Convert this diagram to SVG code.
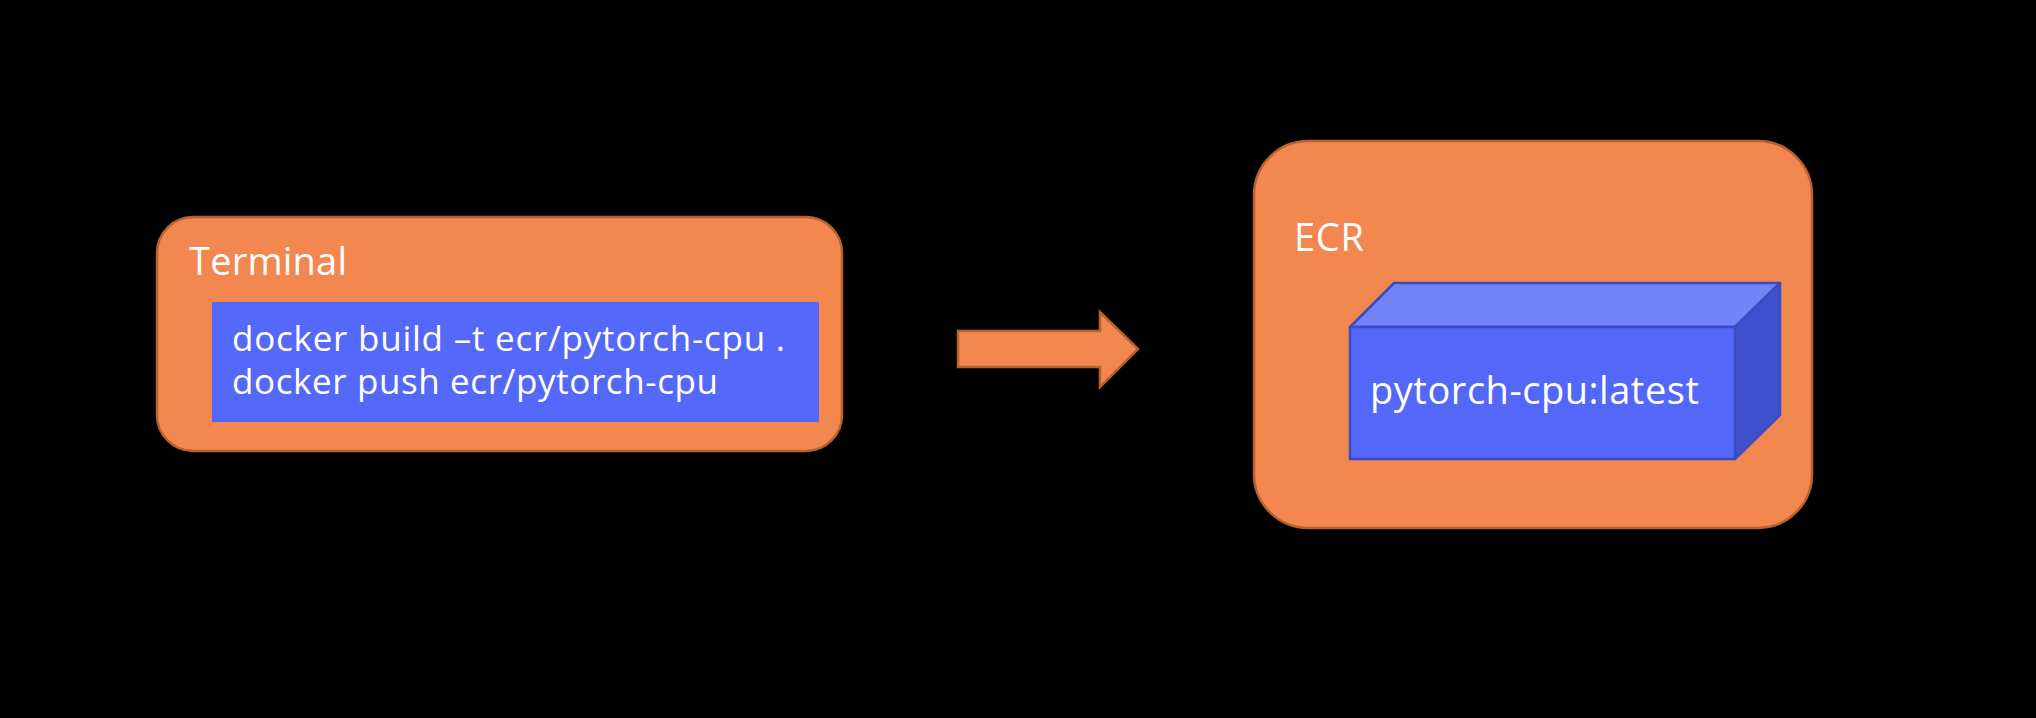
<svg xmlns="http://www.w3.org/2000/svg" width="2036" height="718" viewBox="0 0 2036 718">
  <style>
    .box { fill: #F2874F; stroke: #B9622F; stroke-width: 2.5; }
    .title { font-family: "Open Sans", "Noto Sans", sans-serif; font-size: 38px; fill: #FFFFFF; }
    .code { font-family: "Open Sans", "Noto Sans", sans-serif; font-size: 35px; fill: #FFFFFF; }
    .cube { stroke: #3B4CC0; stroke-width: 2.5; stroke-linejoin: round; }
  </style>
  <rect x="0" y="0" width="2036" height="718" fill="#000000"/>

  <g id="terminal">
    <rect class="box" x="157" y="217" width="685" height="234" rx="36" ry="36"/>
    <text class="title" x="189" y="275" textLength="158" lengthAdjust="spacing">Terminal</text>
    <rect x="212" y="302" width="607" height="120" fill="#5468F9"/>
    <text class="code" x="232" y="351" textLength="553" lengthAdjust="spacing">docker build –t ecr/pytorch-cpu .</text>
    <text class="code" x="232" y="394" textLength="486" lengthAdjust="spacing">docker push ecr/pytorch-cpu</text>
  </g>

  <g id="connectors">
    <polygon class="box" stroke-width="2" points="958,331 1100,331 1100,312 1138,349 1100,387 1100,367 958,367"/>
  </g>

  <g id="ecr">
    <rect class="box" x="1254" y="141" width="558" height="387" rx="54" ry="54"/>
    <text class="title" x="1294" y="251" textLength="70" lengthAdjust="spacing">ECR</text>
  </g>

  <g id="image">
    <polygon class="cube" fill="#7383F8" points="1350,327 1394,283 1780,283 1735,327"/>
    <polygon class="cube" fill="#3F50CC" points="1735,327 1780,283 1780,415 1735,459"/>
    <rect class="cube" x="1350" y="327" width="385" height="132" fill="#5367F8"/>
    <text class="title" x="1370" y="404" textLength="329" lengthAdjust="spacing">pytorch-cpu:latest</text>
  </g>
</svg>
